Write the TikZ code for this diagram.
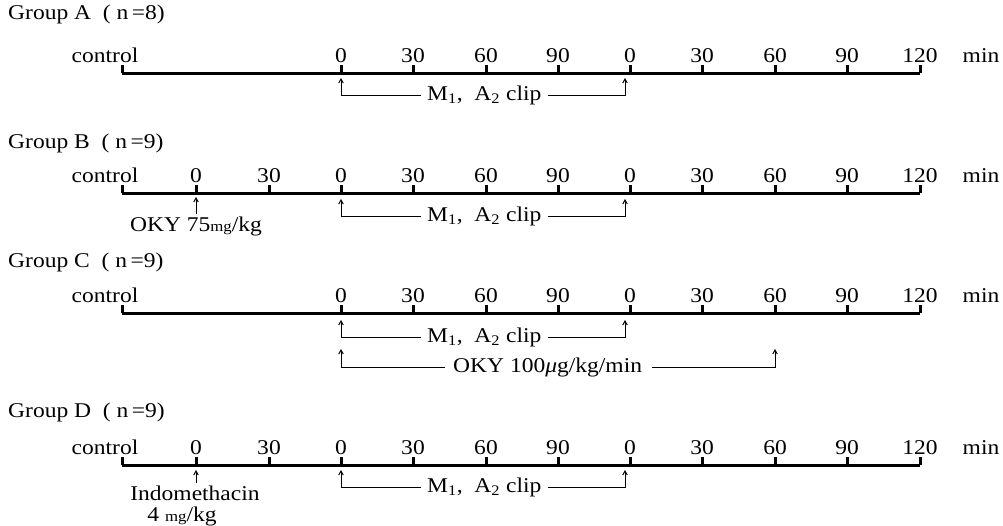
\documentclass[tikz,border=0pt]{standalone}
\usepackage{fontspec}
\setmainfont{Liberation Serif}[FakeStretch=1.12]
\usetikzlibrary{arrows.meta}
\begin{document}
\begin{tikzpicture}[x=1pt,y=-1pt,
  txt/.style={font=\fontsize{21}{25}\selectfont, inner sep=0pt},
  axisline/.style={line width=3pt},
  tickmark/.style={line width=3pt},
  brk/.style={line width=1pt},
  arr/.style={brk,-{Straight Barb[length=4pt,width=4.5pt]}}]
\useasboundingbox (0,0) rectangle (1003,525);
\newcommand{\smallu}[1]{{\fontsize{15}{18}\selectfont #1}}

% ---------- axes ----------
\foreach \g/\ay/\pre in {A/73/0,B/193/1,C/313/0,D/465/1}{
  \coordinate (ax\g s) at (122,\ay);
  \coordinate (ax\g e) at (920,\ay);
  \draw[axisline] (ax\g s) -- (ax\g e);
  \draw[tickmark] (122,\ay) -- (122,\ay-8);
  \node[txt,anchor=base] (ctl\g) at (105,\ay-11) {control};
  \node[txt,anchor=base] (min\g) at (981,\ay-11) {min};
  \foreach \x/\l [count=\i] in {341/0,413/30,486/60,558/90,630/0,702/30,775/60,847/90,920/120}{
    \draw[tickmark] (\x,\ay) -- (\x,\ay-8);
    \node[txt,anchor=base] (lab\g\i) at (\x,\ay-11) {\l};
  }
  \ifnum\pre=1
    \foreach \x/\l [count=\i] in {196/0,269/30}{
      \draw[tickmark] (\x,\ay) -- (\x,\ay-8);
      \node[txt,anchor=base] (pre\g\i) at (\x,\ay-11) {\l};
    }
  \fi
}

% ---------- titles ----------
\node[txt,anchor=base west] (tA) at (8,19) {Group A\ \ ( n\,=8)};
\node[txt,anchor=base west] (tB) at (8,148) {Group B\ \ ( n\,=9)};
\node[txt,anchor=base west] (tC) at (8,267) {Group C\ \ ( n\,=9)};
\node[txt,anchor=base west] (tD) at (8,417) {Group D\ \ ( n\,=9)};

% ---------- M1, A2 clip brackets ----------
\foreach \g/\by in {A/95,B/216,C/337,D/487}{
  \node[txt,anchor=west] (clip\g) at (427,\by) {M\textsubscript{1},\ \ A\textsubscript{2} clip};
  \coordinate (cl\g a) at (341,\by-17);
  \coordinate (cl\g b) at (625,\by-17);
  \draw[arr] ([xshift=-6pt]clip\g.west) -| (cl\g a);
  \draw[arr] ([xshift=6pt]clip\g.east) -| (cl\g b);
}

% ---------- Group B: OKY bolus ----------
\node[txt] (okyB) at (196,226) {OKY 75\smallu{mg}/kg};
\coordinate (okyBt) at (196,197);
\draw[arr] (okyB.north -| okyBt) ++(0,-2) -- (okyBt);

% ---------- Group C: OKY infusion ----------
\node[txt,anchor=west] (okyC) at (453,367) {OKY 100\textit{μ}g/kg/min};
\coordinate (ocA) at (341,349);
\coordinate (ocB) at (775,349);
\draw[arr] ([xshift=-8pt]okyC.west) -| (ocA);
\draw[arr] ([xshift=10pt]okyC.east) -| (ocB);

% ---------- Group D: Indomethacin ----------
\node[txt] (indo) at (195,493) {Indomethacin};
\node[txt] (indo2) at (182,516) {4 \smallu{mg}/kg};
\coordinate (indoT) at (196,470);
\draw[arr] (indo.north -| indoT) ++(0,-2) -- (indoT);
\end{tikzpicture}
\end{document}
